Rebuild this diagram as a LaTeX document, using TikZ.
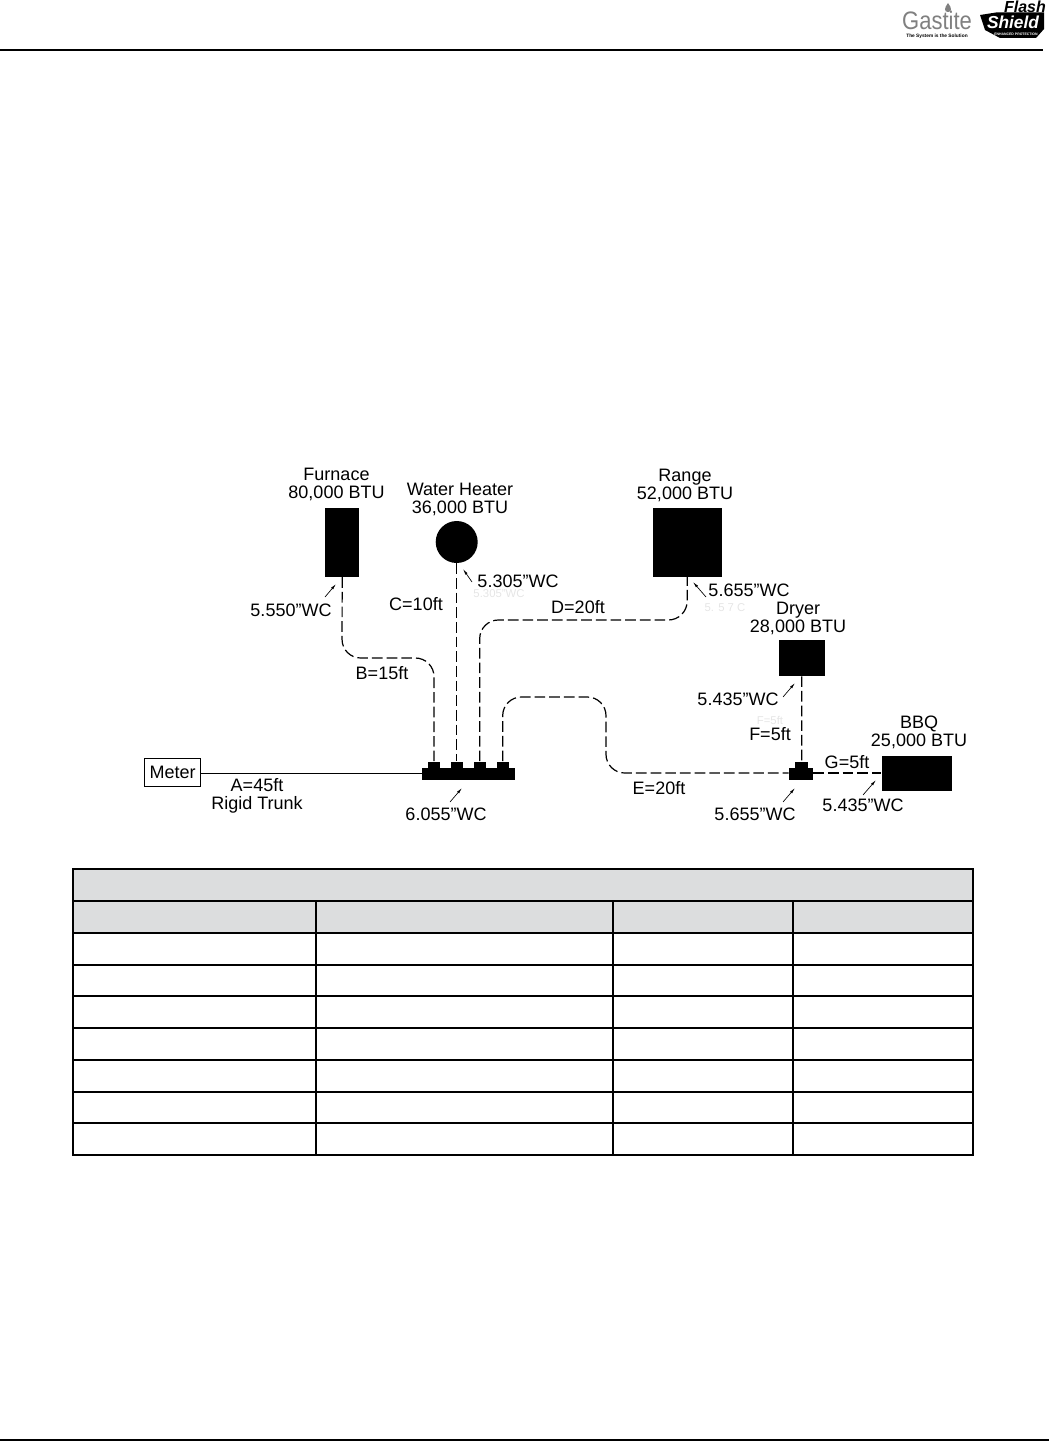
\documentclass[tikz,border=0pt]{standalone}
\usepackage{fontspec}
\setmainfont{Liberation Sans}
\usetikzlibrary{arrows.meta, calc}
\definecolor{headgray}{HTML}{DCDDDE}

\begin{document}
\begin{tikzpicture}[
    x=0.75pt, y=-0.75pt,
    >={Latex[length=4.5pt,width=2pt]}, % Small tip for the pressure leaders
    lbl/.style={inner sep=0pt, font=\fontsize{13.5}{13.5}\selectfont, align=center},
    ghost/.style={inner sep=0pt, font=\fontsize{8.5}{9}\selectfont, text=black!10},
    appliance/.style={fill=black, draw=none, inner sep=0pt, minimum width=#1},
    fitting/.style={fill=black, draw=none, inner sep=0pt},
    pipe/.style={dash pattern=on 8pt off 3pt, line width=0.9pt, rounded corners=14pt},
    leader/.style={->, line width=0.5pt},
    rule/.style={line width=1.5pt}
]
\useasboundingbox (0,0) rectangle (1049,1441);

% Page rules
\coordinate (topL) at (0,50);
\coordinate (topR) at (1043,50);
\coordinate (botL) at (0,1440);
\coordinate (botR) at (1049,1440);
\draw[rule] (topL) -- (topR);
\draw[line width=1.6pt] (botL) -- (botR);

% Gastite logo
\node[inner sep=0pt, text=black!50, yscale=1.15, font=\fontsize{16.5}{17}\selectfont] (gastite) at (937,20.5) {Gastite};
\node[inner sep=0pt, font=\fontsize{3.6}{4}\bfseries\selectfont] (tagline) at (937,36) {The System is the Solution};
\fill[black!50] (948,3) .. controls (952,8) and (952,12) .. (948,12) .. controls (944,12) and (944,8) .. (948,3);

% Flash Shield logo
\fill[black] (980,15) -- (996,12.5) -- (1044,12.5) -- (1044,29) -- (1036,38) -- (1000,38) -- (985,30) -- cycle;
\node[inner sep=0pt, text=white, font=\fontsize{13}{14}\bfseries\itshape\selectfont] (shield) at (1013,22.5) {Shield};
\node[inner sep=0pt, text=black, font=\fontsize{12}{13}\bfseries\itshape\selectfont] (flash) at (1025,6.5) {Flash};
\node[inner sep=0pt, text=white, font=\fontsize{2.6}{3}\bfseries\selectfont] (protect) at (1016,34.8) {ENHANCED PROTECTION};

% Appliances
\node[appliance=34.5*0.75pt, minimum height=52pt] (furnace) at (342.2,542.3) {};
\node[fill=black, circle, inner sep=0pt, minimum size=31.5pt] (heater) at (456.7,542) {};
\node[appliance=69.3*0.75pt, minimum height=52pt] (range) at (687.3,542.3) {};
\node[appliance=46.3*0.75pt, minimum height=27pt] (dryer) at (801.8,658) {};
\node[appliance=70*0.75pt, minimum height=26.6pt] (bbq) at (916.7,773.3) {};

% Meter and trunk
\node[draw, line width=0.6pt, inner sep=0pt, minimum width=42pt, minimum height=21pt, lbl] (meter) at (172.7,772) {Meter};
\node[fitting, minimum width=69.8pt, minimum height=8.6pt] (manifold) at (468.5,773.8) {};
\foreach \nm/\xx in {stubB/434, stubC/456.7, stubD/479.7, stubE/502.7}
    \node[fitting, minimum width=9pt, minimum height=6pt] (\nm) at (\xx,765.5) {};
\node[fitting, minimum width=18pt, minimum height=8.6pt] (tee) at (801,773.8) {};
\node[fitting, minimum width=9.5pt, minimum height=6pt] (teeStub) at (801.7,765.5) {};
\draw[line width=0.7pt] (meter.east |- 0,773) -- (manifold.west |- 0,773);

% Pipe runs
\coordinate (b1) at (342,658);
\coordinate (b2) at (434,658);
\coordinate (d1) at (479.7,620);
\coordinate (d2) at (687,620);
\coordinate (e1) at (502.7,697);
\coordinate (e2) at (606,697);
\coordinate (e3) at (606,773);
\draw[pipe] (furnace.south) -- (b1) -- (b2) -- (stubB.north);
\draw[pipe] (heater.south) -- (stubC.north);
\draw[pipe] (stubD.north) -- (d1) -- (d2) -- (range.south);
\draw[pipe] (stubE.north) -- (e1) -- (e2) -- (e3) -- (tee.west |- e3);
\draw[pipe] (dryer.south) -- (teeStub.north);
\draw[pipe] (tee.east |- e3) -- (bbq.west |- e3);

% Pressure leaders
\foreach \nm/\xa/\ya/\xb/\yb in {lf/325/597/336/584, lh/472/582/463/569, lm/450/802/462/788,
    lr/706/597/693/582, ld/783/697/795/683, lt/783/802/795/788, lq/863/795/876/780} {
    \coordinate (\nm a) at (\xa,\ya);
    \coordinate (\nm b) at (\xb,\yb);
    \draw[leader] (\nm a) -- (\nm b);
}

% Labels
\node[lbl] (tFurnace) at (336.5,484) {Furnace\\80,000 BTU};
\node[lbl] (tHeater) at (460,499) {Water Heater\\36,000 BTU};
\node[lbl] (tRange) at (685,485) {Range\\52,000 BTU};
\node[lbl] (tDryer) at (798,618) {Dryer\\28,000 BTU};
\node[lbl] (tBbq) at (919,732.5) {BBQ\\25,000 BTU};
\node[lbl] (pFurnace) at (291,610) {5.550”WC};
\node[lbl] (pHeater) at (518,581) {5.305”WC};
\node[lbl] (pRange) at (749,590) {5.655”WC};
\node[lbl] (pDryer) at (738,699) {5.435”WC};
\node[lbl] (pTee) at (755,814) {5.655”WC};
\node[lbl] (pBbq) at (863,805) {5.435”WC};
\node[lbl] (pManifold) at (446,814) {6.055”WC};
\node[lbl] (lenA) at (257,796) {A=45ft\\Rigid Trunk};
\node[lbl] (lenB) at (382,673) {B=15ft};
\node[lbl] (lenC) at (416,604) {C=10ft};
\node[lbl] (lenD) at (578,607) {D=20ft};
\node[lbl] (lenE) at (659,788) {E=20ft};
\node[lbl] (lenF) at (770,734) {F=5ft};
\node[lbl] (lenG) at (847,762) {G=5ft};

% Faint leftovers
\node[ghost] (g1) at (499,594) {5.305”WC};
\node[ghost] (g2) at (725,608) {5. 5 7 C};
\node[ghost] (g3) at (770,720) {F=5ft};

% Table
\fill[headgray] (73,869) rectangle (973,933);
\foreach \yy in {869,901,933,965,996,1028,1060,1092,1123,1155}
    \draw[rule] (72.2,\yy) -- (973.8,\yy);
\draw[rule] (73,869) -- (73,1155);
\draw[rule] (973,869) -- (973,1155);
\foreach \xx in {316,613,793}
    \draw[rule] (\xx,901) -- (\xx,1155);

\end{tikzpicture}
\end{document}
